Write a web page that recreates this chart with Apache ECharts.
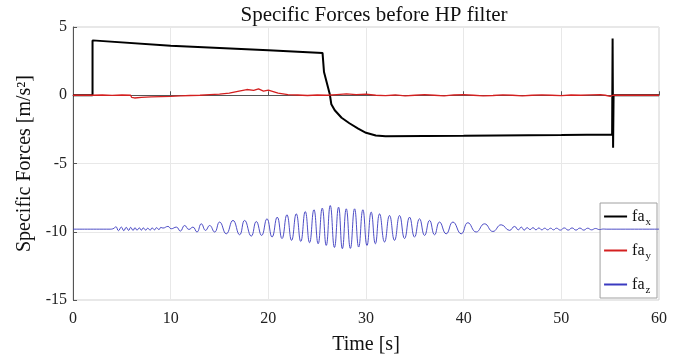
<!DOCTYPE html>
<html>
<head>
<meta charset="utf-8">
<script src="https://cdn.jsdelivr.net/npm/echarts@6/dist/echarts.min.js"></script>
<style>html,body{margin:0;padding:0;background:#fff}#c{width:691px;height:360px}</style>
</head>
<body>
<div id="c"></div>
<script>
const xTicks = [0, 10, 20, 30, 40, 50, 60];
const yTicks = [-15, -10, -5, 0, 5];
const seriesNames = ['fa_x', 'fa_y', 'fa_z'];

// [time s, specific force m/s^2]
const faX = [
  [0,0],[2.0,0],[2.0,4.02],[2.1,3.88],[10,3.62],[20,3.29],[25.55,3.1],[25.7,1.7],
  [26.3,0.05],[26.45,-0.66],[26.8,-1.1],[27.5,-1.65],[28.3,-2.05],[29.2,-2.45],
  [30.0,-2.75],[31.0,-2.95],[32,-3.0],[40,-2.97],[50,-2.92],[55.2,-2.87],
  [55.25,4.16],[55.3,-3.85],[55.35,0],[60,0]
];

const faY = [
  [0,0],[2,0],[3,0.02],[4,-0.01],[5,0.02],[5.9,0.0],[6.0,-0.15],[6.1,-0.08],[6.3,-0.2],
  [7,-0.15],[8,-0.12],[9,-0.1],[10,-0.08],[11,-0.05],[12,-0.02],[13,0.0],[14,0.05],
  [15,0.08],[16,0.15],[17,0.3],[17.8,0.42],[18.5,0.35],[19,0.47],[19.5,0.3],[20,0.38],
  [21,0.15],[22,0.05],[23,0.02],[24,-0.02],[25,0.02],[26,0.0],[27,0.05],[28,0.1],
  [29,0.05],[30,0.08],[31,0.0],[32,-0.03],[33,0.02],[34,-0.05],[35,0.0],[36,0.05],
  [37,0.0],[38,-0.05],[39,0.02],[40,0.05],[41,0.0],[42,-0.05],[43,-0.02],[44,0.03],
  [45,0.0],[46,-0.05],[47,0.0],[48,0.03],[49,0.0],[50,-0.03],[51,0.02],[52,0.0],
  [53,0.03],[54,0.05],[54.5,0.0],[55,-0.08],[55.3,0],[60,0]
];

const faZ = [
  [0,-9.81],[3.8,-9.81],[4.1,-9.78],[4.4,-9.64],[4.65,-9.92],[4.95,-9.66],[5.2,-9.92],
  [5.45,-9.68],[5.7,-9.90],[5.9,-9.68],[6.15,-9.90],[6.35,-9.70],[6.55,-9.88],[6.8,-9.72],
  [7.0,-9.88],[7.2,-9.72],[7.45,-9.88],[7.65,-9.74],[7.9,-9.88],[8.1,-9.72],[8.35,-9.86],
  [8.55,-9.70],[8.8,-9.84],[9.0,-9.68],[9.21,-9.73],[9.72,-9.61],[10.06,-9.78],[10.58,-9.66],
  [10.99,-9.95],[11.43,-9.54],[11.87,-9.83],[12.28,-9.66],[12.69,-10.02],[13.14,-9.42],
  [13.58,-9.90],[13.99,-9.54],[14.5,-10.02],[15.01,-9.29],[15.69,-10.15],[16.38,-9.17],
  [17.06,-10.22],[17.57,-9.17],[18.25,-10.32],[18.77,-9.25],[19.31,-10.27],[19.86,-9.05],
  [20.38,-10.39],[20.91,-8.93],[21.40,-10.50],[21.90,-8.76],[22.38,-10.63],[22.86,-8.69],
  [23.32,-10.71],[23.78,-8.52],[24.22,-10.80],[24.67,-8.39],[25.10,-10.88],[25.52,-8.27],
  [25.93,-11.00],[26.34,-8.08],[26.77,-11.15],[27.19,-8.20],[27.58,-11.24],[27.98,-8.32],
  [28.40,-11.22],[28.83,-8.32],[29.25,-11.12],[29.68,-8.39],[30.10,-11.0],[30.53,-8.56],
  [30.96,-10.88],[31.39,-8.69],[31.90,-10.75],[32.41,-8.81],[32.92,-10.63],[33.44,-8.81],
  [33.95,-10.50],[34.46,-8.93],[34.97,-10.39],[35.48,-9.05],[36.00,-10.27],[36.51,-9.17],
  [37.02,-10.22],[37.53,-9.29],[38.21,-10.15],[38.90,-9.29],[39.75,-10.15],[40.43,-9.34],
  [41.28,-10.02],[42.14,-9.42],[42.99,-9.98],[43.84,-9.49],[44.70,-9.90],[45.21,-9.61],
  [45.6,-9.86],[45.9,-9.66],[46.2,-9.88],[46.5,-9.70],[46.8,-9.84],[47.1,-9.70],[47.4,-9.86],
  [47.7,-9.72],[48.0,-9.86],[48.3,-9.74],[48.6,-9.86],[48.9,-9.74],[49.2,-9.86],[49.5,-9.74],
  [49.9,-9.88],[50.3,-9.72],[50.7,-9.88],[51.1,-9.72],[51.5,-9.88],[51.9,-9.73],[52.3,-9.88],
  [52.7,-9.74],[53.1,-9.86],[53.5,-9.76],[53.9,-9.84],[54.3,-9.80],[54.6,-9.81],[60,-9.81]
];

const serif = '"Liberation Serif","DejaVu Serif",serif';
const colors = ['#000000', '#d42020', '#3a3ac0'];
const chart = echarts.init(document.getElementById('c'), null, {renderer: 'canvas'});
chart.setOption({
  animation: false,
  backgroundColor: '#fff',
  title: {
    text: 'Specific Forces before HP filter',
    left: 369, top: 0, textAlign: 'center',
    textStyle: {fontFamily: serif, fontSize: 21, fontWeight: 'normal', color: '#111'}
  },
  grid: {left: 73, right: 32, top: 27, bottom: 59, show: true, borderColor: '#d0d0d0', borderWidth: 1},
  legend: {
    data: seriesNames.map(function (n, i) {
      return {name: n, icon: 'rect', itemStyle: {color: colors[i]}};
    }),
    orient: 'vertical',
    right: 34, top: 203,
    backgroundColor: '#fff',
    borderColor: '#a0a0a0', borderWidth: 1, borderRadius: 0,
    padding: [2, 6, 2, 4],
    itemWidth: 23, itemHeight: 2, itemGap: 11,
    formatter: function (n) { return '{m|fa}{s|' + n.split('_')[1] + '}'; },
    textStyle: {
      fontFamily: serif, color: '#111',
      rich: {
        m: {fontFamily: serif, fontSize: 16, color: '#111', lineHeight: 20},
        s: {fontFamily: serif, fontSize: 11, color: '#111', lineHeight: 20, padding: [12, 0, 0, 1]}
      }
    }
  },
  xAxis: {
    type: 'value', min: xTicks[0], max: xTicks[xTicks.length - 1], interval: 10,
    name: 'Time [s]', nameLocation: 'middle', nameGap: 35,
    nameTextStyle: {fontFamily: serif, fontSize: 20, color: '#111'},
    axisLine: {show: true, lineStyle: {color: '#555', width: 1}},
    axisTick: {show: true, inside: true, length: 4, lineStyle: {color: '#555'}},
    axisLabel: {fontFamily: serif, fontSize: 16, color: '#222', margin: 11},
    splitLine: {show: true, lineStyle: {color: '#e8e8e8', width: 1}}
  },
  yAxis: {
    type: 'value', min: yTicks[0], max: yTicks[yTicks.length - 1], interval: 5,
    name: 'Specific Forces [m/s²]', nameLocation: 'middle', nameGap: 34, nameRotate: 90,
    nameTextStyle: {fontFamily: serif, fontSize: 20, color: '#111'},
    axisLine: {show: true, lineStyle: {color: '#555', width: 1}},
    axisTick: {show: true, inside: true, length: 4, lineStyle: {color: '#555'}},
    axisLabel: {fontFamily: serif, fontSize: 16, color: '#222', margin: 6},
    splitLine: {show: true, lineStyle: {color: '#e8e8e8', width: 1}}
  },
  series: [
    {name: seriesNames[0], type: 'line', data: faX, symbol: 'none', lineStyle: {color: colors[0], width: 2}, itemStyle: {color: colors[0]}, z: 2},
    {name: seriesNames[1], type: 'line', data: faY, symbol: 'none', lineStyle: {color: colors[1], width: 1.3}, itemStyle: {color: colors[1]}, z: 3},
    {name: seriesNames[2], type: 'line', data: faZ, symbol: 'none', smooth: 0.5, lineStyle: {color: colors[2], width: 0.9}, itemStyle: {color: colors[2]}, z: 4}
  ]
});
</script>
</body>
</html>
